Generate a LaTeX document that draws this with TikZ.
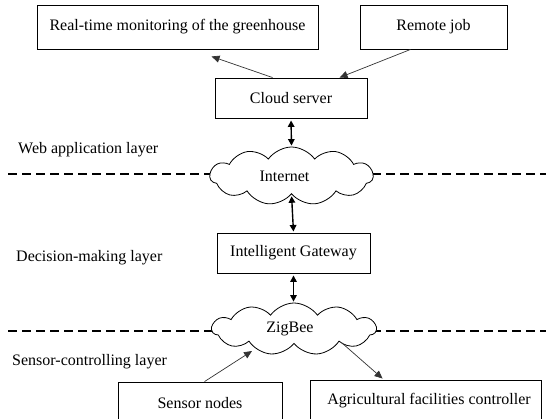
\documentclass[tikz,border=0pt]{standalone}
\usepackage{fontspec}
\setmainfont{Liberation Serif}
\usetikzlibrary{shapes.symbols,arrows.meta,calc}
\begin{document}
\begin{tikzpicture}[x=1pt,y=-1pt,
  every node/.style={font=\fontsize{16pt}{19pt}\selectfont, inner sep=0pt},
  box/.style={draw, line width=0.9pt, fill=white},
  netcloud/.style={draw, cloud, cloud puffs=11, cloud puff arc=110, cloud ignores aspect, line width=0.8pt, fill=white},
  thinarrow/.style={-{Triangle[length=8pt,width=7pt]}, line width=0.7pt, draw=black!80},
  dblarrow/.style={{Triangle[length=6.5pt,width=6.5pt]}-{Triangle[length=6.5pt,width=6.5pt]}, line width=1.4pt, shorten <=2pt, shorten >=1pt},
  layerline/.style={line width=2.4pt, dash pattern=on 9pt off 5pt},
  layerlabel/.style={anchor=west}]
\useasboundingbox (0,0) rectangle (546,419);
\clip (0,0) rectangle (546,419);
\fill[white] (0,0) rectangle (546,419);

% layer separators
\coordinate (L1) at (8,174);
\coordinate (R1) at (546,174);
\coordinate (L2) at (8,331);
\coordinate (R2) at (546,331);
\draw[layerline] (L1) -- (R1);
\draw[layerline] (L2) -- (R2);

% boxes
\node[box, minimum width=281pt, minimum height=44pt] (rt) at (177.5,27) {Real-time monitoring of the greenhouse};
\node[box, minimum width=147pt, minimum height=44pt] (rj) at (433.5,27) {Remote job};
\node[box, minimum width=152pt, minimum height=40pt] (cs) at (291,98) {Cloud server};
\node[netcloud, minimum width=163pt, minimum height=58pt] (inet) at (291.5,176) {Internet\hspace*{14pt}};
\node[box, minimum width=153pt, minimum height=40pt] (gw) at (293.5,253) {Intelligent Gateway};
\node[netcloud, minimum width=164pt, minimum height=52pt] (zig) at (294,329) {ZigBee\hspace*{8pt}};
\node[box, minimum width=164pt, minimum height=42pt] (sn) at (200,403) {Sensor nodes};
\node[box, minimum width=231pt, minimum height=42pt] (af) at (425.5,401) {\hspace*{7pt}Agricultural facilities controller};

% layer labels
\node[layerlabel] (lw) at (18,150) {Web application layer};
\node[layerlabel] (ld) at (16,258) {Decision-making layer};
\node[layerlabel] (ls) at (12,362) {Sensor-controlling layer};

% arrows
\draw[thinarrow] ($(cs.north west)+(58,0)$) -- ($(rt.south west)+(175,7)$);
\draw[thinarrow] ($(rj.south west)+(51,0)$) -- ($(cs.north west)+(125,0)$);
\draw[dblarrow] (cs.south) -- (inet.north);
\draw[dblarrow] (inet.south) -- (gw.north);
\draw[dblarrow] (gw.south) -- (zig.north -| gw.south);
\draw[thinarrow] ($(sn.north west)+(87,0)$) -- ($(zig.south)+(-42,7)$);
\draw[thinarrow] ($(zig.south)+(48,-1)$) -- ($(af.north west)+(73,-1)$);
\end{tikzpicture}
\end{document}
